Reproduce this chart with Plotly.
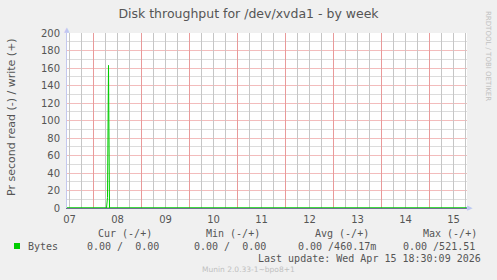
import pandas as pd
import plotly.graph_objects as go

# ---- data ----
write_times = ["2026-04-07 10:45", "2026-04-08 06:30", "2026-04-08 07:00",
               "2026-04-08 07:30", "2026-04-08 08:00", "2026-04-15 18:45"]
write_values = [0, 0, 12, 163, 0, 0]
read_times = ["2026-04-07 10:45", "2026-04-15 18:45"]
read_values = [0, 0]

x_range = ["2026-04-07 10:45", "2026-04-15 18:45"]
x_first_day = "2026-04-07"
y_range = [0, 200]
y_major_step = 20
y_minor_step = 10

legend_headers = ["Cur (-/+)", "Min (-/+)", "Avg (-/+)", "Max (-/+)"]
legend_values = ["0.00 /\u00a0\u00a00.00", "0.00 /\u00a0\u00a00.00",
                 "0.00 /460.17m", "0.00 /521.51"]
series_name = "Bytes"
series_color = "#00cc00"

W, H = 497, 280
L, R, T, B = 67, 467, 33, 208
PW, PH = R - L, B - T


def px(x):
    return (x - L) / PW


def py(y):
    return (B - y) / PH


TXT = "#555555"
MONO = "DejaVu Sans Mono"
SANS = "DejaVu Sans"
RED_GRID = "#f3bcbc"
GRAY_GRID = "#dcdcdc"
RED_VGRID = "#e99a9a"
GRAY_VGRID = "#c6c6c6"
DAY_MS = 86400000

# vertical grid positions inside the visible range
lo, hi = pd.Timestamp(x_range[0]), pd.Timestamp(x_range[1])
six_hourly = [t for t in pd.date_range(x_first_day, hi, freq="6h") if lo < t < hi]
gray_times = [t for t in six_hourly if t.hour != 0]
red_times = [t for t in six_hourly if t.hour == 0]


def vlines(times):
    xs, ys = [], []
    for t in times:
        s = t.strftime("%Y-%m-%d %H:%M")
        xs += [s, s, None]
        ys += [y_range[0], y_range[1], None]
    return xs, ys


fig = go.Figure()
for times, col in ((gray_times, GRAY_VGRID), (red_times, RED_VGRID)):
    gx, gy = vlines(times)
    fig.add_trace(go.Scatter(x=gx, y=gy, mode="lines",
                             line=dict(color=col, width=1),
                             showlegend=False, hoverinfo="skip"))
fig.add_trace(go.Scatter(x=read_times, y=read_values, mode="lines",
                         yaxis="y2",
                         line=dict(color=series_color, width=1),
                         showlegend=False, hoverinfo="skip"))
fig.add_trace(go.Scatter(x=write_times, y=write_values, mode="lines",
                         line=dict(color=series_color, width=1),
                         name=series_name, showlegend=False))

fig.update_layout(
    width=W, height=H,
    margin=dict(l=L, r=W - R, t=T, b=H - B, pad=0),
    paper_bgcolor="#f0f0f0", plot_bgcolor="#ffffff",
    font=dict(family=SANS, size=10, color=TXT),
    title=dict(text="Disk throughput for /dev/xvda1 - by week",
               x=0.5, xref="container", xanchor="center",
               y=1 - 14 / H, yref="container", yanchor="middle",
               font=dict(family=SANS, size=12.5, color=TXT)),
    xaxis=dict(type="date", range=x_range, tick0=x_first_day, dtick=DAY_MS,
               tickformat="%d", ticklabelmode="period", showgrid=False,
               ticklabelstandoff=2, zeroline=False,
               tickfont=dict(family=SANS, size=10, color=TXT),
               showline=True, linecolor="#707090", linewidth=1),
    yaxis=dict(range=y_range, tick0=0, dtick=y_minor_step,
               showgrid=True, gridcolor=GRAY_GRID, gridwidth=1,
               showticklabels=False, zeroline=False,
               showline=True, linecolor="#c4c8ee", linewidth=1),
    yaxis2=dict(range=y_range, overlaying="y", side="left",
                tick0=0, dtick=y_major_step, zeroline=False,
                showgrid=True, gridcolor=RED_GRID, gridwidth=1,
                ticklabelstandoff=6,
                tickfont=dict(family=SANS, size=10, color=TXT)),
    showlegend=False,
)

ann = []
ann.append(dict(text="Pr second read (-) / write (+)", x=px(11), y=py(117),
                xref="paper", yref="paper", textangle=-90, showarrow=False,
                xanchor="center", yanchor="middle",
                font=dict(family=SANS, size=11, color=TXT)))
ann.append(dict(text="RRDTOOL / TOBI OETIKER", x=px(488), y=py(56),
                xref="paper", yref="paper", textangle=90, showarrow=False,
                xanchor="center", yanchor="middle",
                font=dict(family=SANS, size=7, color="#c0c0c0")))
ann.append(dict(text="\u25b2", x=px(67), y=py(30), xref="paper", yref="paper",
                showarrow=False, xanchor="center", yanchor="middle",
                font=dict(family=SANS, size=7, color="#c0c6f2")))
ann.append(dict(text="\u25b6", x=px(470), y=py(208), xref="paper", yref="paper",
                showarrow=False, xanchor="center", yanchor="middle",
                font=dict(family=SANS, size=7, color="#c0c6f2")))
for h, cx in zip(legend_headers, [125, 233, 342, 450]):
    ann.append(dict(text=h, x=px(cx), y=py(233), xref="paper", yref="paper",
                    showarrow=False, xanchor="center", yanchor="middle",
                    font=dict(family=MONO, size=10, color=TXT)))
for v, rx in zip(legend_values, [161, 268, 378, 477]):
    ann.append(dict(text=v, x=px(rx), y=py(246), xref="paper", yref="paper",
                    showarrow=False, xanchor="right", yanchor="middle",
                    font=dict(family=MONO, size=10, color=TXT)))
ann.append(dict(text=series_name, x=px(26), y=py(246), xref="paper", yref="paper",
                showarrow=False, xanchor="left", yanchor="middle",
                font=dict(family=MONO, size=10, color=TXT)))
ann.append(dict(text="Last update: Wed Apr 15 18:30:09 2026", x=px(483), y=py(258),
                xref="paper", yref="paper", showarrow=False,
                xanchor="right", yanchor="middle",
                font=dict(family=MONO, size=10, color=TXT)))
ann.append(dict(text="Munin 2.0.33-1~bpo8+1", x=px(248), y=py(269.5),
                xref="paper", yref="paper", showarrow=False,
                xanchor="center", yanchor="middle",
                font=dict(family=SANS, size=7.5, color="#c0c0c0")))
fig.update_layout(annotations=ann)

fig.add_shape(type="rect", xref="paper", yref="paper",
              x0=px(14), x1=px(20), y0=py(249), y1=py(243),
              fillcolor=series_color, line=dict(width=0))

fig.write_html("out.html")
